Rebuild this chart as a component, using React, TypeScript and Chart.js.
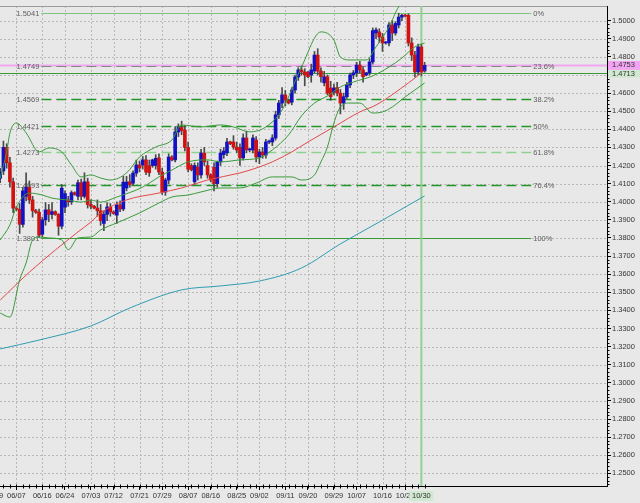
import React, { useEffect, useRef } from 'react';
import { Chart, registerables } from 'chart.js';
Chart.register(...registerables);

// ---- candles (bar index 0 = 06/01, Sunday bars included) ----
const opens = [1.4130,1.4170,1.4300,1.4215,1.4110,1.3965,1.3958,1.3875,1.4030,1.4080,
 1.4010,1.3950,1.3942,1.3820,1.3900,1.3955,1.3930,1.3945,1.3930,1.3865,
 1.3970,1.4010,1.4000,1.4050,1.4030,1.4105,1.4030,1.4110,1.3985,1.3975,
 1.3965,1.3950,1.3880,1.3930,1.3971,1.3943,1.3926,1.3982,1.3960,1.4076,
 1.4110,1.4102,1.4158,1.4203,1.4203,1.4231,1.4200,1.4200,1.4200,1.4242,
 1.4164,1.4054,1.4120,1.4247,1.4231,1.4385,1.4410,1.4396,1.4300,1.4200,
 1.4110,1.4192,1.4148,1.4269,1.4200,1.4148,1.4190,1.4100,1.4220,1.4260,
 1.4270,1.4330,1.4330,1.4302,1.4300,1.4242,1.4352,1.4286,1.4286,1.4341,
 1.4247,1.4275,1.4258,1.4330,1.4330,1.4352,1.4480,1.4545,1.4590,1.4560,
 1.4550,1.4617,1.4689,1.4728,1.4717,1.4715,1.4700,1.4722,1.4810,1.4722,
 1.4657,1.4690,1.4628,1.4605,1.4630,1.4600,1.4545,1.4580,1.4645,1.4700,
 1.4712,1.4755,1.4728,1.4700,1.4712,1.4772,1.4932,1.4938,1.4910,1.4877,
 1.4877,1.4976,1.4932,1.4976,1.5020,1.5030,1.5030,1.4877,1.4810,1.4717,
 1.4855,1.4722];
const highs = [1.4185,1.4335,1.4320,1.4245,1.4130,1.3975,1.3990,1.4080,1.4160,1.4115,
 1.4030,1.3958,1.3960,1.3915,1.3995,1.3985,1.3995,1.3950,1.3935,1.4095,
 1.4060,1.4030,1.4060,1.4055,1.4120,1.4125,1.4160,1.4130,1.4010,1.3980,
 1.4010,1.3985,1.3950,1.3995,1.3990,1.3950,1.4000,1.4005,1.4140,1.4140,
 1.4150,1.4170,1.4230,1.4225,1.4250,1.4255,1.4230,1.4235,1.4260,1.4265,
 1.4185,1.4130,1.4265,1.4255,1.4415,1.4430,1.4445,1.4420,1.4330,1.4210,
 1.4215,1.4215,1.4290,1.4300,1.4225,1.4155,1.4215,1.4225,1.4290,1.4300,
 1.4350,1.4335,1.4365,1.4330,1.4320,1.4375,1.4390,1.4295,1.4370,1.4360,
 1.4290,1.4300,1.4345,1.4340,1.4370,1.4500,1.4560,1.4630,1.4615,1.4565,
 1.4630,1.4700,1.4740,1.4750,1.4735,1.4720,1.4760,1.4830,1.4845,1.4740,
 1.4720,1.4700,1.4665,1.4650,1.4660,1.4620,1.4600,1.4660,1.4710,1.4725,
 1.4770,1.4775,1.4745,1.4715,1.4790,1.4960,1.4960,1.4955,1.4930,1.4885,
 1.4990,1.5000,1.4995,1.5041,1.5035,1.5035,1.5038,1.4905,1.4830,1.4870,
 1.4870,1.4770];
const lows = [1.4105,1.4150,1.4185,1.4080,1.3940,1.3950,1.3825,1.3860,1.4005,1.3990,
 1.3915,1.3935,1.3801,1.3805,1.3870,1.3890,1.3905,1.3925,1.3815,1.3850,
 1.3940,1.3975,1.3985,1.4035,1.4010,1.4010,1.4020,1.3965,1.3960,1.3960,
 1.3920,1.3870,1.3840,1.3895,1.3920,1.3930,1.3880,1.3945,1.3950,1.4060,
 1.4080,1.4090,1.4140,1.4165,1.4180,1.4150,1.4140,1.4190,1.4180,1.4150,
 1.4040,1.4035,1.4100,1.4225,1.4220,1.4360,1.4370,1.4280,1.4165,1.4170,
 1.4095,1.4120,1.4130,1.4200,1.4130,1.4110,1.4060,1.4080,1.4200,1.4240,
 1.4255,1.4315,1.4290,1.4270,1.4200,1.4230,1.4270,1.4275,1.4270,1.4220,
 1.4210,1.4240,1.4240,1.4320,1.4310,1.4340,1.4460,1.4520,1.4530,1.4540,
 1.4535,1.4600,1.4670,1.4700,1.4640,1.4685,1.4660,1.4710,1.4700,1.4660,
 1.4640,1.4590,1.4560,1.4590,1.4585,1.4485,1.4510,1.4570,1.4630,1.4680,
 1.4690,1.4710,1.4660,1.4695,1.4700,1.4760,1.4900,1.4880,1.4830,1.4870,
 1.4860,1.4890,1.4920,1.4960,1.5000,1.5020,1.4860,1.4780,1.4690,1.4700,
 1.4695,1.4715];
const closes = [1.4165,1.4300,1.4215,1.4110,1.3965,1.3958,1.3875,1.4060,1.4080,1.4010,
 1.3950,1.3942,1.3815,1.3900,1.3955,1.3930,1.3945,1.3930,1.3865,1.4075,
 1.4045,1.4000,1.4050,1.4040,1.4105,1.4030,1.4110,1.3985,1.3975,1.3965,
 1.3950,1.3895,1.3930,1.3971,1.3943,1.3935,1.3982,1.3960,1.4108,1.4109,
 1.4095,1.4158,1.4203,1.4186,1.4231,1.4164,1.4160,1.4231,1.4240,1.4164,
 1.4054,1.4120,1.4247,1.4231,1.4385,1.4410,1.4393,1.4300,1.4180,1.4176,
 1.4200,1.4148,1.4269,1.4220,1.4148,1.4120,1.4100,1.4220,1.4269,1.4280,
 1.4330,1.4320,1.4302,1.4286,1.4242,1.4352,1.4286,1.4290,1.4352,1.4247,
 1.4275,1.4258,1.4330,1.4335,1.4352,1.4480,1.4545,1.4590,1.4562,1.4545,
 1.4617,1.4689,1.4728,1.4717,1.4700,1.4690,1.4728,1.4810,1.4722,1.4690,
 1.4690,1.4600,1.4580,1.4628,1.4600,1.4545,1.4580,1.4645,1.4700,1.4712,
 1.4755,1.4728,1.4690,1.4712,1.4772,1.4945,1.4949,1.4910,1.4877,1.4880,
 1.4976,1.4932,1.4985,1.5020,1.5030,1.5025,1.4877,1.4810,1.4717,1.4855,
 1.4717,1.4753];

// ---- indicator samples (bar index, price) ----
const upperIdx = [0,2,3,5,8,12,15,19,22,25,28,31,34,39,43,48,53,56,62,68,72,77,82,87,93,99,103,105,108,113,116,120,123,126,129,131];
const upperVal = [1.4131,1.4275,1.4380,1.4435,1.4380,1.4275,1.4297,1.4275,1.4203,1.4137,1.4148,1.4131,1.4120,1.4159,1.4247,1.4302,1.4341,1.4424,1.4413,1.4424,1.4413,1.4386,1.4413,1.4507,1.4744,1.4938,1.4893,1.4799,1.4783,1.4783,1.4855,1.4965,1.5076,1.5110,1.5105,1.5095];
const middleIdx = [0,3,5,9,13,16,21,25,28,31,36,44,49,53,58,64,68,74,80,84,89,93,97,101,105,109,115,120,124,128,131];
const middleVal = [1.3789,1.3872,1.3971,1.4048,1.4037,1.4020,1.4009,1.3998,1.4009,1.3998,1.4026,1.4081,1.4137,1.4175,1.4220,1.4231,1.4220,1.4231,1.4242,1.4286,1.4369,1.4474,1.4545,1.4584,1.4634,1.4661,1.4695,1.4744,1.4794,1.4855,1.4877];
const lowerIdx = [0,3,6,8,10,12,15,19,21,24,28,31,36,43,49,53,58,62,68,74,79,84,90,93,97,99,101,103,105,108,111,115,118,121,125,128,131];
const lowerVal = [1.3385,1.3363,1.3568,1.3662,1.3789,1.3805,1.3800,1.3789,1.3735,1.3800,1.3805,1.3844,1.3883,1.3938,1.3993,1.4026,1.4037,1.4054,1.4076,1.4076,1.4103,1.4137,1.4137,1.4120,1.4148,1.4220,1.4302,1.4435,1.4523,1.4545,1.4545,1.4490,1.4496,1.4523,1.4579,1.4617,1.4656];
const maRedIdx = [0,9,17,24,28,31,39,49,56,64,74,79,84,90,95,103,111,116,126,130,131];
const maRedVal = [1.3457,1.3611,1.3733,1.3833,1.3888,1.3938,1.4010,1.4048,1.4076,1.4120,1.4159,1.4186,1.4220,1.4275,1.4330,1.4413,1.4496,1.4534,1.4656,1.4711,1.4725];
const maTealIdx = [0,12,28,40,56,68,80,93,105,117,131];
const maTealVal = [1.3187,1.3236,1.3314,1.3413,1.3513,1.3535,1.3562,1.3634,1.3767,1.3888,1.4032];

// ---- axes ----
const xTickIdx = [5,13,20,28,35,43,50,58,65,73,80,88,95,103,110,118,125];
const xTickLabels = ['06/07','06/16','06/24','07/03','07/12','07/21','07/29','08/07','08/16','08/25','09/02','09/11','09/20','09/29','10/07','10/16','10/25'];
const prevLabelIdx = -2;
const prevLabel = '05/29';
const yTicks = [1.25,1.26,1.27,1.28,1.29,1.30,1.31,1.32,1.33,1.34,1.35,1.36,1.37,1.38,1.39,1.40,1.41,1.42,1.43,1.44,1.45,1.46,1.47,1.48,1.49,1.50];

// ---- objects ----
const fibLevels = [1.5041,1.4749,1.4569,1.4421,1.4273,1.4093,1.3801];
const fibNames = ['0%','23.6%','38.2%','50%','61.8%','76.4%','100%'];
const fibStartIdx = 12.7;
const fibEndIdx = 163.9;
const bidPrice = 1.4753;
const linePrice = 1.4713;
const cursorIdx = 130;
const cursorLabel = '10/30';

const FONT = '"Liberation Sans", Arial, sans-serif';
const fibStyle = [
  { c: '#7cc47c', dash: [] as number[], w: 1 },
  { c: '#7f8c7f', dash: [10, 5], w: 1.2 },
  { c: '#23962a', dash: [10, 5], w: 1.3 },
  { c: '#23962a', dash: [10, 5], w: 1.3 },
  { c: '#8fd28f', dash: [10, 5], w: 1.6 },
  { c: '#23962a', dash: [10, 5], w: 1.3 },
  { c: '#3a9a3a', dash: [] as number[], w: 1 },
];

const mt4Plugin = {
  id: 'mt4',
  beforeDraw(chart: any) {
    const { ctx, width, height } = chart;
    ctx.save();
    ctx.fillStyle = '#e8e8e8';
    ctx.fillRect(0, 0, width, height);
    ctx.restore();
  },
  beforeDatasetsDraw(chart: any) {
    const { ctx, chartArea: a, scales } = chart;
    const xs = scales.x, ys = scales.y;
    ctx.save();
    ctx.strokeStyle = '#b9b9b9';
    ctx.lineWidth = 1;
    ctx.setLineDash([2, 2]);
    for (const v of yTicks) {
      const py = Math.round(ys.getPixelForValue(v)) + 0.5;
      ctx.beginPath(); ctx.moveTo(a.left, py); ctx.lineTo(a.right, py); ctx.stroke();
    }
    for (const v of xTickIdx) {
      const px = Math.round(xs.getPixelForValue(v)) + 0.5;
      ctx.beginPath(); ctx.moveTo(px, a.top); ctx.lineTo(px, a.bottom); ctx.stroke();
    }
    ctx.setLineDash([]);
    ctx.strokeStyle = '#9c9c9c';
    ctx.beginPath(); ctx.moveTo(a.left, a.top + 0.5); ctx.lineTo(a.right, a.top + 0.5); ctx.stroke();
    const yb = ys.getPixelForValue(bidPrice);
    ctx.strokeStyle = '#f0a6f0';
    ctx.lineWidth = 2;
    ctx.beginPath(); ctx.moveTo(a.left, yb); ctx.lineTo(a.right, yb); ctx.stroke();
    const yg = Math.round(ys.getPixelForValue(linePrice)) + 0.5;
    ctx.strokeStyle = '#3a9a3a';
    ctx.lineWidth = 1;
    ctx.beginPath(); ctx.moveTo(a.left, yg); ctx.lineTo(a.right, yg); ctx.stroke();
    const x1 = xs.getPixelForValue(fibStartIdx);
    const x2 = xs.getPixelForValue(fibEndIdx);
    ctx.font = '7.5px ' + FONT;
    ctx.textBaseline = 'middle';
    fibLevels.forEach((v, k) => {
      const st = fibStyle[k];
      const py = Math.round(ys.getPixelForValue(v)) + 0.5;
      ctx.strokeStyle = st.c;
      ctx.lineWidth = st.w;
      ctx.setLineDash(st.dash);
      ctx.beginPath(); ctx.moveTo(x1, py); ctx.lineTo(x2, py); ctx.stroke();
      ctx.setLineDash([]);
      ctx.fillStyle = '#5e5e5e';
      ctx.textAlign = 'right';
      ctx.fillText(v.toFixed(4), x1 - 2, py);
      ctx.textAlign = 'left';
      ctx.fillText(fibNames[k], x2 + 2, py);
    });
    const xc = xs.getPixelForValue(cursorIdx);
    ctx.strokeStyle = '#92d092';
    ctx.lineWidth = 2;
    ctx.beginPath(); ctx.moveTo(xc, a.top); ctx.lineTo(xc, a.bottom); ctx.stroke();
    ctx.restore();
  },
  afterDraw(chart: any) {
    const { ctx, chartArea: a, scales } = chart;
    const xs = scales.x, ys = scales.y;
    ctx.save();
    ctx.strokeStyle = '#000';
    ctx.lineWidth = 1;
    for (let i = 1; i <= 131; i += 2) {
      const px = Math.round(xs.getPixelForValue(i)) + 0.5;
      ctx.beginPath(); ctx.moveTo(px, a.bottom - 1.5); ctx.lineTo(px, a.bottom + 2.5); ctx.stroke();
    }
    for (let k = 0; k < yTicks.length; k++) {
      for (let m = 1; m < 5; m++) {
        const v = yTicks[k] - m * 0.002;
        if (v < ys.min) continue;
        const py = Math.round(ys.getPixelForValue(v)) + 0.5;
        ctx.beginPath(); ctx.moveTo(a.right, py); ctx.lineTo(a.right + 2.5, py); ctx.stroke();
      }
    }
    ctx.font = '7.5px ' + FONT;
    ctx.textBaseline = 'middle';
    ctx.fillStyle = '#333';
    ctx.textAlign = 'center';
    ctx.fillText(prevLabel, xs.getPixelForValue(prevLabelIdx), 495.5);
    const yb = ys.getPixelForValue(bidPrice);
    const yg = ys.getPixelForValue(linePrice);
    ctx.textAlign = 'left';
    ctx.fillStyle = '#cfe8cf';
    ctx.fillRect(a.right + 1, yb + 4.5, 40, yg + 5 - (yb + 4.5));
    ctx.fillStyle = '#333';
    ctx.fillText(linePrice.toFixed(4), a.right + 5, yg + 1);
    ctx.fillStyle = '#f2a4f2';
    ctx.fillRect(a.right + 1, yb - 4.5, 40, 9);
    ctx.fillStyle = '#333';
    ctx.fillText(bidPrice.toFixed(4), a.right + 5, yb);
    const xc = xs.getPixelForValue(cursorIdx);
    ctx.fillStyle = '#cfe8cf';
    ctx.fillRect(xc - 12, a.bottom + 5, 24, 10);
    ctx.fillStyle = '#333';
    ctx.textAlign = 'center';
    ctx.fillText(cursorLabel, xc, a.bottom + 10);
    ctx.restore();
  },
};

function pts(idx: number[], vals: number[]) {
  return idx.map((i, k) => ({ x: i, y: vals[k] }));
}

export default function App() {
  const ref = useRef<HTMLCanvasElement>(null);
  useEffect(() => {
    document.body.style.margin = '0';
    const bull = '#1212c4', bear = '#d01212';
    const bodyColors = closes.map((c, k) => (c >= opens[k] ? bull : bear));
    const lineDs = (label: string, idx: number[], vals: number[], color: string) => ({
      type: 'line' as const,
      label,
      data: pts(idx, vals),
      borderColor: color,
      borderWidth: 1,
      pointRadius: 0,
      fill: false,
      cubicInterpolationMode: 'monotone' as const,
      order: 0,
    });
    const chart = new Chart(ref.current as HTMLCanvasElement, {
      type: 'bar',
      data: {
        datasets: [
          lineDs('BB upper', upperIdx, upperVal, '#3a9a3a'),
          lineDs('BB middle', middleIdx, middleVal, '#3a9a3a'),
          lineDs('BB lower', lowerIdx, lowerVal, '#3a9a3a'),
          lineDs('MA red', maRedIdx, maRedVal, '#e24a4a'),
          lineDs('MA teal', maTealIdx, maTealVal, '#2f9db2'),
          {
            type: 'bar',
            label: 'bodies',
            data: opens.map((o, i) => ({ x: i, y: [o, closes[i]] })),
            backgroundColor: bodyColors,
            borderWidth: 0,
            barThickness: 3,
            maxBarThickness: 3,
            minBarLength: 1,
            grouped: false,
            order: 1,
          } as any,
          {
            type: 'bar',
            label: 'wicks',
            data: lows.map((l, i) => ({ x: i, y: [l, highs[i]] })),
            backgroundColor: '#4a4a4a',
            borderWidth: 0,
            barThickness: 1,
            maxBarThickness: 1,
            grouped: false,
            order: 2,
          } as any,
        ],
      },
      options: {
        animation: false,
        responsive: false,
        events: [],
        layout: { padding: { top: 6, left: 0, right: 0, bottom: 0 } },
        plugins: { legend: { display: false }, tooltip: { enabled: false } },
        scales: {
          x: {
            type: 'linear',
            position: 'bottom',
            min: -0.06,
            max: 187.29,
            offset: false,
            grid: { display: true, offset: false, drawOnChartArea: false, drawTicks: true, tickLength: 4, tickColor: '#000', tickWidth: 1 },
            border: { display: true, color: '#000', width: 1 },
            ticks: {
              autoSkip: false,
              maxRotation: 0,
              minRotation: 0,
              padding: 1,
              color: '#333',
              font: { family: FONT, size: 7.5 },
              callback: (_v: any, index: number) => xTickLabels[index],
            },
            afterBuildTicks: (s: any) => { s.ticks = xTickIdx.map((v) => ({ value: v })); },
            afterFit: (s: any) => { s.height = 17; },
          },
          y: {
            type: 'linear',
            position: 'right',
            min: 1.2430,
            max: 1.5081,
            beginAtZero: false,
            grid: { display: true, drawOnChartArea: false, drawTicks: true, tickLength: 4, tickColor: '#000', tickWidth: 1 },
            border: { display: true, color: '#000', width: 1 },
            ticks: {
              padding: 1,
              color: '#333',
              font: { family: FONT, size: 7.5 },
              callback: (v: any) => Number(v).toFixed(4),
            },
            afterBuildTicks: (s: any) => { s.ticks = yTicks.map((v) => ({ value: v })); },
            afterFit: (s: any) => { s.width = 33; },
          },
        },
      } as any,
      plugins: [mt4Plugin],
    });
    return () => chart.destroy();
  }, []);
  return (
    <div style={{ position: 'absolute', left: 0, top: 0, width: 640, height: 503, background: '#e8e8e8' }}>
      <canvas ref={ref} width={640} height={503} style={{ display: 'block', width: 640, height: 503 }} />
    </div>
  );
}
